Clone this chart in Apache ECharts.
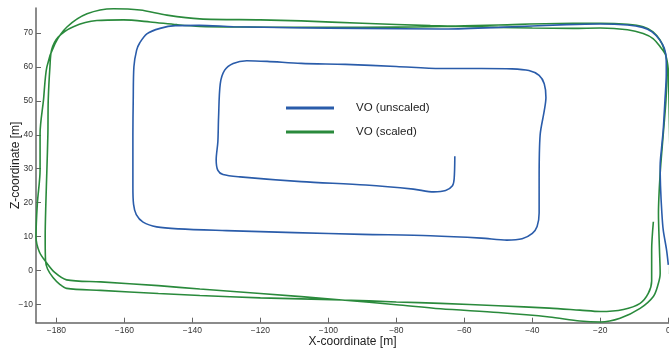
<!DOCTYPE html>
<html>
<head>
<meta charset="utf-8">
<script src="https://cdn.jsdelivr.net/npm/echarts@6/dist/echarts.min.js"></script>
<style>
html,body{margin:0;padding:0;background:#fff;}
#chart{width:669px;height:351px;}
</style>
</head>
<body>
<div id="chart"></div>
<script>
// ---- data ----
const seriesNames = ['VO (unscaled)', 'VO (scaled)'];
const xTicks = [-180, -160, -140, -120, -100, -80, -60, -40, -20, 0];
const yTicks = [-10, 0, 10, 20, 30, 40, 50, 60, 70];

const blueX = [0,-0.5,-1.5,-1.9,-2.3,-2.4,-2,-1.5,-1,-0.6,-0.6,-1.2,-2.6,-4.8,-7.6,-12,-20,-30,-50,-67,-90,-110,-128,-138,-145,-149.5,-153.4,-155.5,-156.4,-157.2,-157.4,-157.5,-157.5,-157.3,-156.5,-154.5,-150.5,-144,-130,-110,-90,-70,-55,-47.5,-43,-40,-38.6,-38,-38,-37.7,-36.5,-36,-36.5,-38,-41,-46,-55,-67,-80,-95,-108,-118,-124,-128,-130.5,-131.8,-132.3,-132.5,-133,-132.5,-131,-126,-108,-89,-75,-69,-65.5,-63.5,-63,-62.8];
const blueZ = [1.7,6,12,17,25,31,36,41.4,50,58,62,65.5,68,70.3,71.6,72.3,72.6,72.4,71.6,71.1,71.3,71.5,71.8,72.2,72.1,71.3,69.7,67,64.9,60,50,40,25,19.5,16.5,14.3,12.9,12.3,11.8,11.2,10.7,10.3,9.6,9.0,9.4,11,13,17,27,40,47,51,55,57.5,58.9,59.4,59.5,59.5,60.1,60.7,61,61.6,61.8,61,59,55,45,38,32.6,29.5,28.3,27.6,26.2,25.2,24,23.2,23.6,25,27,33.7];

const greenX = [0.4,0.5,0.5,0.3,0.1,0,-0.8,-2.4,-4.5,-7.4,-12,-20,-28,-40,-50,-70,-90,-108,-120,-137.8,-147.5,-155.4,-163.2,-171,-176.9,-180.4,-182.8,-183.8,-184.8,-184.8,-185.6,-186,-185,-182.8,-180.5,-177,-167,-150,-137.8,-120,-96,-80,-67,-50,-35,-26,-20,-14.2,-8.3,-4.4,-3,-2.4,-2.6,-2.9,-2.4,-1.5,-0.7,-0.4,-0.5,-1.2,-2.4,-4.5,-7.4,-12,-20,-28,-50,-70,-90,-108,-125,-137.8,-144.6,-152.4,-160.3,-168.1,-175,-179.4,-181.4,-181.9,-182.4,-182.5,-182.8,-183.1,-183.3,-183.2,-182.6,-181,-179,-177,-167,-150,-137.8,-120,-96,-80,-67,-50,-35,-26,-20,-13.2,-8.3,-5.9,-4.9,-4.9,-4.4];
const greenZ = [-1,15,30,45,55,59,63.5,65.9,68.3,69.8,70.9,71.4,71.3,71.4,71.6,72.1,72.8,73.5,73.8,74.1,75.2,76.7,77.1,75.6,71.7,66.8,60,50.2,40.4,29.6,19.8,10,5.5,2.2,-0.5,-2.7,-3.3,-4.4,-5.4,-6.7,-8.6,-10,-11.2,-12.3,-13.6,-14.8,-15.1,-14,-11.1,-7.6,-4,-0.8,6.1,16.9,28.6,40,50,58,62,65,67.8,70.3,71.8,72.5,72.8,72.8,72.3,71.8,71.6,71.6,71.7,71.9,72.4,73.2,73.8,73.6,71.8,68.8,65,60,50.2,40.4,29.6,19.8,10,3,0.5,-2,-4,-5.2,-5.8,-6.7,-7.3,-8.0,-8.6,-9.2,-9.6,-10.3,-11,-11.6,-12,-11.4,-9.6,-6.7,-3,6,14.4];

// ---- chart ----
const pairs = (xs, zs) => xs.map((x, i) => [x, zs[i]]);
const minus = v => String(v).replace('-', '\u2212');
const FONT = '"Liberation Sans", Arial, sans-serif';
const BLUE = '#2a5caa';
const GREEN = '#2a8a3c';
const AX = '#666';

const chart = echarts.init(document.getElementById('chart'));
chart.setOption({
  animation: false,
  textStyle: {fontFamily: FONT},
  grid: {left: 36, right: 0, top: 8, bottom: 28.3, containLabel: false, outerBoundsMode: 'none'},
  legend: {
    data: seriesNames,
    orient: 'vertical',
    left: 281,
    top: 97,
    icon: 'rect',
    itemWidth: 48,
    itemHeight: 3,
    itemGap: 12,
    textStyle: {fontSize: 11.5, color: '#222', fontFamily: FONT, padding: [0, 0, 0, 17]}
  },
  xAxis: {
    type: 'value',
    min: -186,
    max: 0.2,
    name: 'X-coordinate [m]',
    nameLocation: 'middle',
    nameGap: 13,
    nameMoveOverlap: false,
    nameTextStyle: {fontSize: 12, color: '#222', fontFamily: FONT},
    splitLine: {show: false},
    axisLine: {show: true, onZero: false, lineStyle: {color: AX, width: 1.5}},
    axisTick: {show: true, inside: true, length: 5, customValues: xTicks, lineStyle: {color: AX, width: 1}},
    axisLabel: {customValues: xTicks, fontSize: 8.5, color: '#333', margin: 3, formatter: minus}
  },
  yAxis: {
    type: 'value',
    min: -15.3,
    max: 77.3,
    name: 'Z-coordinate [m]',
    nameLocation: 'middle',
    nameGap: 14,
    nameRotate: 90,
    nameMoveOverlap: false,
    nameTextStyle: {fontSize: 12, color: '#222', fontFamily: FONT},
    splitLine: {show: false},
    axisLine: {show: true, onZero: false, lineStyle: {color: AX, width: 1.5}},
    axisTick: {show: true, inside: true, length: 5, customValues: yTicks, lineStyle: {color: AX, width: 1}},
    axisLabel: {customValues: yTicks, fontSize: 8.5, color: '#333', margin: 3, formatter: minus}
  },
  series: [
    {
      name: seriesNames[0], type: 'line', data: pairs(blueX, blueZ),
      showSymbol: false, smooth: 0.3, clip: true,
      lineStyle: {color: BLUE, width: 1.6}, itemStyle: {color: BLUE}, z: 3
    },
    {
      name: seriesNames[1], type: 'line', data: pairs(greenX, greenZ),
      showSymbol: false, smooth: 0.3, clip: true,
      lineStyle: {color: GREEN, width: 1.6}, itemStyle: {color: GREEN}, z: 2
    }
  ]
});
</script>
</body>
</html>
